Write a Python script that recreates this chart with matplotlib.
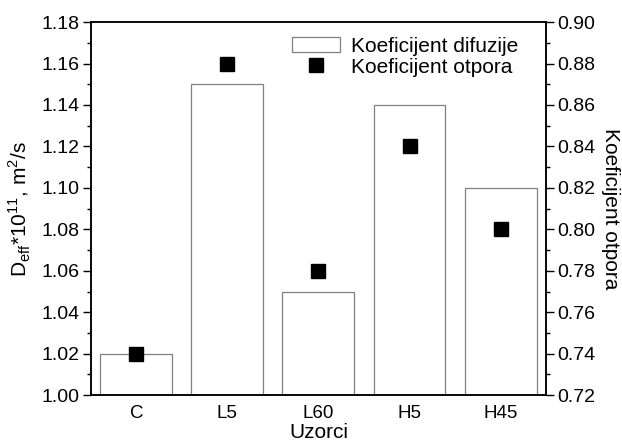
import matplotlib
matplotlib.use('Agg')
from matplotlib import pyplot as plt
from matplotlib.ticker import MultipleLocator

plt.rcParams['font.family'] = ['Liberation Sans', 'DejaVu Sans']
plt.rcParams['mathtext.fontset'] = 'custom'
plt.rcParams['mathtext.rm'] = 'Liberation Sans'

samples = ['C', 'L5', 'L60', 'H5', 'H45']
diffusion = [1.02, 1.15, 1.05, 1.14, 1.10]
resistance = [0.74, 0.88, 0.78, 0.84, 0.80]

fig = plt.figure(figsize=(6.22, 4.42), dpi=100)
ax = fig.add_axes([0.146, 0.106, 0.732, 0.844])
ax2 = ax.twinx()

x = range(len(samples))
bars = ax.bar(x, diffusion, width=0.79, facecolor='white', edgecolor='#808080',
              linewidth=0.9, label='Koeficijent difuzije')
pts, = ax2.plot(x, resistance, 's', color='black', markersize=9.5, label='Koeficijent otpora')

ax.set_xlim(-0.5, 4.5)
ax.set_ylim(1.00, 1.18)
ax2.set_ylim(0.72, 0.90)
ax.set_xticks(list(x))
ax.set_xticklabels(samples)
ax.tick_params(axis='x', length=0, labelsize=13.5, pad=7)
ax.yaxis.set_major_locator(MultipleLocator(0.02))
ax.yaxis.set_minor_locator(MultipleLocator(0.01))
ax2.yaxis.set_major_locator(MultipleLocator(0.02))
ax2.yaxis.set_minor_locator(MultipleLocator(0.01))
ax.yaxis.set_major_formatter(plt.FormatStrFormatter('%.2f'))
ax2.yaxis.set_major_formatter(plt.FormatStrFormatter('%.2f'))
for a in (ax, ax2):
    a.tick_params(axis='y', which='major', length=6, width=1, labelsize=14, direction='out', pad=2)
    a.tick_params(axis='y', which='minor', length=3, width=1, direction='out')
    for s in a.spines.values():
        s.set_linewidth(1.1)

ax.set_xlabel('Uzorci', fontsize=15, labelpad=0.5)
ax.set_ylabel(r'D$_{\mathrm{eff}}$*10$^{11}$, m$^2$/s', fontsize=15, labelpad=6)
ax2.set_ylabel('Koeficijent otpora', fontsize=15, rotation=270, labelpad=18)

ax.legend([bars, pts], ['Koeficijent difuzije', 'Koeficijent otpora'],
          loc='upper right', frameon=False, fontsize=15,
          handlelength=2.3, borderaxespad=0.3, handletextpad=0.5, labelspacing=0.1,
          bbox_to_anchor=(0.97, 1.0))

fig.savefig('out.png', dpi=100)
